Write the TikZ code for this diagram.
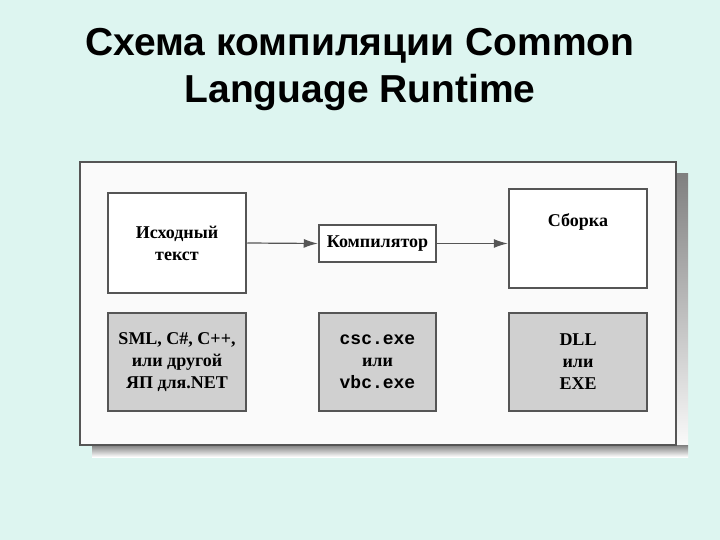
\documentclass[tikz,border=0pt]{standalone}
\usepackage{fontspec}
\usetikzlibrary{arrows.meta}
\setmainfont{Liberation Serif}
\newfontfamily\titlefont{Liberation Sans}
\setmonofont{Liberation Mono}
\definecolor{bg}{HTML}{DDF5F0}
\definecolor{panel}{HTML}{FAFAFA}
\definecolor{shade}{HTML}{A8A8A8}
\definecolor{boxgray}{HTML}{D0D0D0}
\definecolor{edge}{HTML}{555555}
\begin{document}
\begin{tikzpicture}[x=1pt,y=-1pt,
  box/.style={draw=edge,line width=2.5pt,fill=white,inner sep=0pt,font=\bfseries\fontsize{18}{22}\selectfont,align=center},
  gbox/.style={box,fill=boxgray},
  arr/.style={draw=edge,line width=1.2pt,-{Latex[length=14pt,width=9pt]}}]
\useasboundingbox[fill=bg] (0,0) rectangle (720,540);
\node[font=\titlefont\bfseries\fontsize{39}{47}\selectfont,align=center] (title) at (360,70) {Схема компиляции Common\\Language Runtime};
\fill[shade] (676,174) rectangle (688,457);
\fill[shade] (92,445) rectangle (688,457);
\draw[edge,line width=2.5pt,fill=panel] (80,162) rectangle (676,445);
\node[box,minimum width=138pt,minimum height=100pt] (src) at (177,243) {Исходный\\текст};
\node[box,minimum width=117pt,minimum height=37pt] (comp) at (377.5,243.5) {Компилятор};
\node[box,minimum width=138pt,minimum height=99pt] (asm) at (578,238.5) {Сборка\\[14pt]};
\node[gbox,minimum width=138pt,minimum height=98pt] (lang) at (177,362) {SML, C\#, C++,\\или другой\\ЯП для.NET};
\node[gbox,minimum width=117pt,minimum height=98pt] (tool) at (377.5,362) {\ttfamily csc.exe\\или\\\ttfamily vbc.exe};
\node[gbox,minimum width=138pt,minimum height=98pt] (out) at (578,362) {DLL\\или\\EXE};
\draw[arr] (src.east) -- (comp.west);
\draw[arr] (comp.east) -- (comp.east -| asm.west);
\end{tikzpicture}
\end{document}
